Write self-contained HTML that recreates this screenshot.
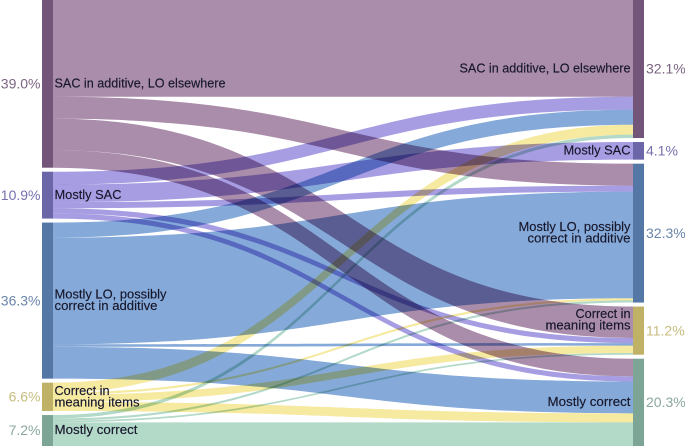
<!DOCTYPE html>
<html lang="en">
<head>
<meta charset="utf-8">
<title>Sankey chart of answer patterns</title>
<style>
  html, body { margin: 0; padding: 0; background: #fff; }
  #chart { display: block; width: 685px; height: 446px; overflow: hidden; isolation: isolate; background: #fff; }
  #chart text { font-family: "Liberation Sans", sans-serif; }
  .flow { mix-blend-mode: multiply; }
  .label { font-size: 12.8px; fill: #17172b; stroke: #17172b; stroke-width: 0.15px; }
  .pct { font-size: 14px; }
</style>
</head>
<body>
<svg id="chart" xmlns="http://www.w3.org/2000/svg" width="685" height="446" viewBox="0 0 685 446"></svg>
<script>
// Categories (shared by left and right columns)
const categories = [
  ["SAC in additive, LO elsewhere"],
  ["Mostly SAC"],
  ["Mostly LO, possibly", "correct in additive"],
  ["Correct in", "meaning items"],
  ["Mostly correct"]
];
// Share of responses (%) moving from source (row) to target (column)
const fromSac        = [22.5, 0,   5.1,  7.3, 4.1];
const fromMostlySac  = [3.0,  4.1, 1.4,  1.2, 1.2];
const fromMostlyLo   = [3.5,  0,   24.8, 0.6, 7.4];
const fromCorrectMi  = [2.3,  0,   0.5,  1.7, 2.1];
const fromCorrect    = [0.8,  0,   0.5,  0.4, 5.5];
const flows = [fromSac, fromMostlySac, fromMostlyLo, fromCorrectMi, fromCorrect];
// Printed totals
const leftLabels  = ["39.0%", "10.9%", "36.3%", "6.6%", "7.2%"];
const rightLabels = ["32.1%", "4.1%", "32.3%", "11.2%", "20.3%"];

const svg = document.getElementById('chart');
const NS = 'http://www.w3.org/2000/svg';
const slugs = ['sac-in-additive', 'mostly-sac', 'mostly-lo', 'correct-in-meaning', 'mostly-correct'];
const flowColors = ['#aa8cab', '#a79de2', '#85a9d8', '#f6e9a0', '#b3d9c9'];
const nodeColors = ['#73557a', '#6b66a8', '#5577a5', '#bfb267', '#7da595'];
const pctColors  = ['#7c6483', '#7570ae', '#6a85ab', '#c6bc7e', '#8aa89c'];
const lineWidths = {
  "SAC in additive, LO elsewhere": 171,
  "Mostly SAC": 67,
  "Mostly LO, possibly": 112,
  "correct in additive": 103,
  "Correct in": 55,
  "meaning items": 85,
  "Mostly correct": 83
};
const scaleK = 4.3, nodeGap = 4, leftX = 42, rightX = 633, nodeW = 11;

const lenY = v => v * scaleK;
const leftTotals = flows.map(r => r.reduce((a, b) => a + b, 0));
const rightTotals = categories.map((_, j) => flows.reduce((a, r) => a + r[j], 0));

function stack(totals) {
  const out = [];
  let y = 0;
  totals.forEach(t => { out.push(y); y += lenY(t) + nodeGap; });
  return out;
}
const leftTop = stack(leftTotals);
const rightTop = stack(rightTotals);

// flows: filled ribbons of constant vertical thickness
const rightCursor = rightTop.slice();
flows.forEach((row, i) => {
  let ly = leftTop[i];
  row.forEach((v, j) => {
    if (v <= 0) return;
    const w = lenY(v);
    const y0 = ly;
    const y1 = rightCursor[j];
    ly += w;
    rightCursor[j] += w;
    const x0 = leftX + nodeW, x1 = rightX, xm = (x0 + x1) / 2;
    const a = y0.toFixed(2), b = y1.toFixed(2), c = (y1 + w).toFixed(2), d = (y0 + w).toFixed(2);
    const p = document.createElementNS(NS, 'path');
    p.setAttribute('d', `M${x0},${a}C${xm},${a} ${xm},${b} ${x1},${b}L${x1},${c}C${xm},${c} ${xm},${d} ${x0},${d}Z`);
    p.setAttribute('class', 'flow');
    p.setAttribute('fill', flowColors[i]);
    
    
    svg.appendChild(p);
  });
});

// nodes and labels
function addNode(x, y, h, i, side) {
  const r = document.createElementNS(NS, 'rect');
  r.setAttribute('x', x);
  r.setAttribute('y', y.toFixed(2));
  r.setAttribute('width', nodeW);
  r.setAttribute('height', h.toFixed(2));
  r.setAttribute('fill', nodeColors[i]);
  
  
  svg.appendChild(r);
}
function addCategoryLabel(x, cy, lines, anchor, i, side) {
  const g = document.createElementNS(NS, 'g');
  
  
  const lineH = 11.5;
  lines.forEach((line, k) => {
    const t = document.createElementNS(NS, 'text');
    t.setAttribute('class', 'label');
    t.setAttribute('text-anchor', anchor);
    t.setAttribute('x', x);
    t.setAttribute('y', (cy + 3.7 + (k - (lines.length - 1) / 2) * lineH).toFixed(2));
    t.setAttribute('textLength', lineWidths[line]);
    t.setAttribute('lengthAdjust', 'spacingAndGlyphs');
    
    
    t.textContent = line;
    g.appendChild(t);
  });
  svg.appendChild(g);
}
function addPct(x, cy, str, anchor, i, side) {
  const t = document.createElementNS(NS, 'text');
  t.setAttribute('class', 'pct');
  t.setAttribute('x', x);
  t.setAttribute('y', (cy + 4.7).toFixed(2));
  t.setAttribute('text-anchor', anchor);
  t.setAttribute('fill', pctColors[i]);
  
  
  t.textContent = str;
  svg.appendChild(t);
}
categories.forEach((lines, i) => {
  const lh = lenY(leftTotals[i]), rh = lenY(rightTotals[i]);
  const lc = leftTop[i] + lh / 2, rc = rightTop[i] + rh / 2;
  addNode(leftX, leftTop[i], lh, i, 'left');
  addNode(rightX, rightTop[i], rh, i, 'right');
  addCategoryLabel(leftX + nodeW + 1.5, lc, lines, 'start', i, 'left');
  const labelShift = i === 3 ? -10.5 : 0;
  addCategoryLabel(rightX - 2.5, rc + labelShift, lines, 'end', i, 'right');
  addPct(leftX - 1.5, lc, leftLabels[i], 'end', i, 'left');
  addPct(rightX + nodeW + 2, rc, rightLabels[i], 'start', i, 'right');
});
</script>
</body>
</html>
